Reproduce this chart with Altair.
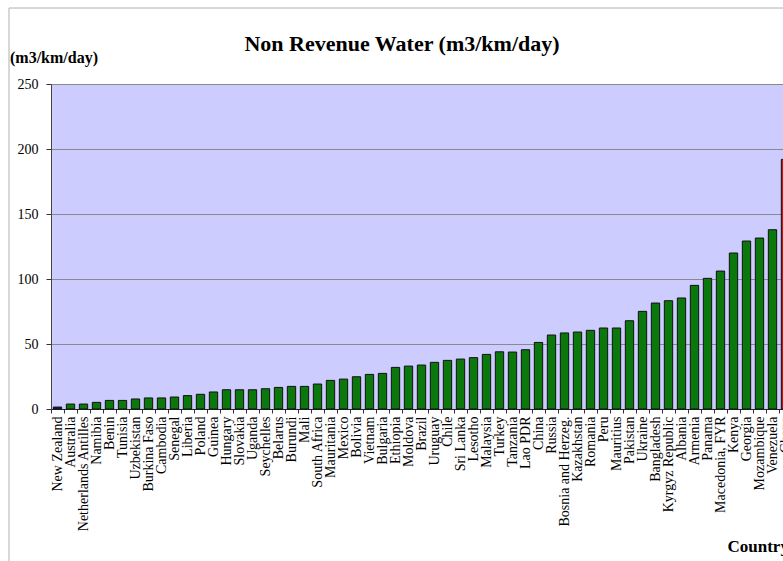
import altair as alt
import pandas as pd

countries = [
    "New Zealand", "Australia", "Netherlands Antilles", "Namibia", "Benin",
    "Tunisia", "Uzbekistan", "Burkina Faso", "Cambodia", "Senegal",
    "Liberia", "Poland", "Guinea", "Hungary", "Slovakia",
    "Uganda", "Seychelles", "Belarus", "Burundi", "Mali",
    "South Africa", "Mauritania", "Mexico", "Bolivia", "Vietnam",
    "Bulgaria", "Ethiopia", "Moldova", "Brazil", "Uruguay",
    "Chile", "Sri Lanka", "Lesotho", "Malaysia", "Turkey",
    "Tanzania", "Lao PDR", "China", "Russia", "Bosnia and Herzeg.",
    "Kazakhstan", "Romania", "Peru", "Mauritius", "Pakistan",
    "Ukraine", "Bangladesh", "Kyrgyz Republic", "Albania", "Armenia",
    "Panama", "Macedonia, FYR", "Kenya", "Georgia", "Mozambique",
    "Venezuela", "Ghana",
]

nrw = [
    1.5, 3.8, 3.8, 5.1, 6.6,
    6.6, 7.7, 8.5, 8.5, 9.2,
    10.3, 11.3, 13.1, 14.8, 14.8,
    14.8, 15.6, 16.6, 17.4, 17.4,
    19.2, 22.0, 23.0, 24.8, 26.6,
    27.4, 32.0, 33.0, 33.8, 35.9,
    37.4, 38.4, 39.5, 42.0, 44.0,
    43.8, 45.6, 51.2, 56.9, 58.5,
    59.2, 60.5, 62.3, 62.3, 67.9,
    75.1, 81.5, 83.3, 85.4, 95.1,
    100.5, 106.1, 120.0, 129.2, 131.5,
    137.9, 192.0,
]

# highlight groups: benchmark (lowest), highest, and the rest
groups = ["low"] + ["mid"] * (len(countries) - 2) + ["high"]

y_ticks = [0, 50, 100, 150, 200, 250]
unit_label = "(m3/km/day)"
chart_title = "Non Revenue Water (m3/km/day)"

df = pd.DataFrame({"Country": countries, "NRW": nrw, "group": groups})

SERIF = "Liberation Serif"

bars = alt.Chart(df).mark_bar(stroke="#111111", strokeWidth=1).encode(
    x=alt.X(
        "Country:N",
        sort=countries,
        scale=alt.Scale(range=[0, 741], paddingInner=0.36, paddingOuter=0.18),
        axis=alt.Axis(
            title="Country",
            titleFont=SERIF,
            titleFontSize=17,
            titleFontWeight="bold",
            titleColor="black",
            titleAlign="left",
            titleBaseline="middle",
            titleX=676,
            titleY=137,
            labelAngle=-90,
            labelAlign="right",
            labelBaseline="middle",
            labelFont=SERIF,
            labelFontSize=14,
            labelColor="black",
            labelOverlap=False,
            labelPadding=3,
            tickOffset=-6.5,
            labelOffset=6.5,
            tickSize=4,
            tickColor="#333333",
            domainColor="#222222",
            grid=False,
        ),
    ),
    y=alt.Y(
        "NRW:Q",
        scale=alt.Scale(domain=[0, 250], nice=False),
        axis=alt.Axis(
            values=y_ticks,
            title=None,
            labelFont=SERIF,
            labelFontSize=14,
            labelColor="black",
            labelPadding=8,
            tickSize=5,
            tickColor="#333333",
            domainColor="#444444",
            gridColor="#8a8a8a",
            gridWidth=1,
        ),
    ),
    color=alt.Color(
        "group:N",
        scale=alt.Scale(domain=["low", "mid", "high"],
                        range=["#1a1a66", "#0b780b", "#cc1111"]),
        legend=None,
    ),
)

one = pd.DataFrame({"k": [0]})

# chart heading, centred over the plot
heading = alt.Chart(one).mark_text(
    font=SERIF, fontSize=22, fontWeight="bold", color="black",
    align="center", baseline="middle",
).encode(x=alt.value(351), y=alt.value(-40), text=alt.value(chart_title))

# unit label of the value axis, above its top tick
unit = alt.Chart(one).mark_text(
    font=SERIF, fontSize=16, fontWeight="bold", color="black",
    align="left", baseline="middle",
).encode(x=alt.value(-41), y=alt.value(-26), text=alt.value(unit_label))

# outer frame of the chart area
frame_left = alt.Chart(one).mark_rule(color="#b0b0b0", strokeWidth=1).encode(
    x=alt.value(-42), y=alt.value(-76), y2=alt.value(480)
)
frame_top = alt.Chart(one).mark_rule(color="#b0b0b0", strokeWidth=1).encode(
    x=alt.value(-42), x2=alt.value(740), y=alt.value(-76)
)

chart = alt.layer(bars, heading, unit, frame_left, frame_top).properties(
    width=732,
    height=325,
    autosize=alt.AutoSizeParams(type="none"),
    padding={"left": 51, "top": 84, "right": 0, "bottom": 152},
    background="white",
).configure_view(
    fill="#ccccff",
    stroke="#8c8c8c",
    strokeWidth=1,
)

chart.save("out.html", embed_options={"renderer": "svg", "actions": False})
